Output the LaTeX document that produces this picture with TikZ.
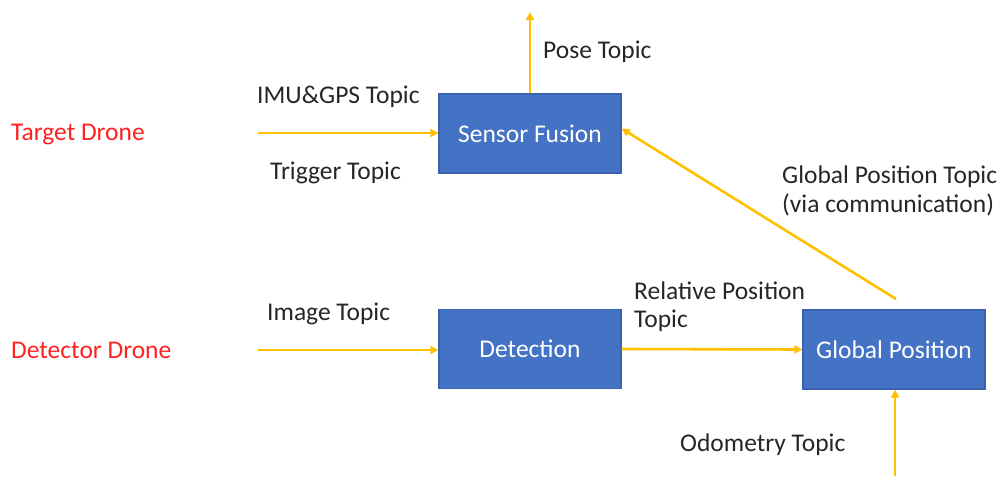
\documentclass[tikz,border=0pt]{standalone}
\usepackage{fontspec}
\setmainfont{Carlito}
\usetikzlibrary{arrows.meta}
\definecolor{boxblue}{HTML}{4472C4}
\definecolor{boxedge}{HTML}{3A62AE}
\definecolor{flow}{HTML}{FFC000}
\definecolor{droneRed}{HTML}{FF2020}
\definecolor{txt}{HTML}{262626}
\begin{document}
\begin{tikzpicture}[x=1pt,y=-1pt,
  font=\fontsize{25.5}{30}\selectfont,
  block/.style={draw=boxedge,line width=1.2pt,fill=boxblue,text=white,
    minimum width=182pt,minimum height=79pt,inner sep=0pt},
  flowline/.style={draw=flow,line width=2.6pt,-{Triangle[length=8pt,width=8pt]}},
  lbl/.style={text=txt,anchor=west,inner sep=0pt},
  drone/.style={text=droneRed,anchor=west,inner sep=0pt}]
\useasboundingbox (0,0) rectangle (1004,477);

% processing blocks
\node[block] (fusion) at (530,133.5) {Sensor Fusion};
\node[block] (detect) at (530,349) {Detection};
\node[block] (global) at (894,349.5) {Global Position};

% drone labels
\node[drone] (target) at (11,135) {Target Drone};
\node[drone] (detector) at (11,350) {Detector Drone};

% free ends of the connectors
\coordinate (imuIn) at (258,133);
\coordinate (imgIn) at (258,350);
\coordinate (poseOut) at (530,12);
\coordinate (odoIn) at (895,476);
\coordinate (gpTail) at (896,299);

% connectors
\draw[flowline] (imuIn) -- (fusion.west |- imuIn);
\draw[flowline] (fusion.north) -- (poseOut);
\draw[flowline] (imgIn) -- (detect.west |- imgIn);
\draw[flowline] (detect.east) -- (global.west);
\draw[flowline] (gpTail) -- ([yshift=5pt]fusion.east);
\draw[flowline] (odoIn) -- (global.south -| odoIn);

% topic labels
\node[lbl] (imu) at (257,97) {IMU\&GPS Topic};
\node[lbl] (trig) at (270,173) {Trigger Topic};
\node[lbl] (pose) at (543,52) {Pose Topic};
\node[lbl] (gp1) at (782,177) {Global Position Topic};
\node[lbl] (gp2) at (782,205) {(via communication)};
\node[lbl] (rel1) at (634,291) {Relative Position};
\node[lbl] (rel2) at (634,321) {Topic};
\node[lbl] (img) at (267,314) {Image Topic};
\node[lbl] (odo) at (680,445) {Odometry Topic};
\end{tikzpicture}
\end{document}
